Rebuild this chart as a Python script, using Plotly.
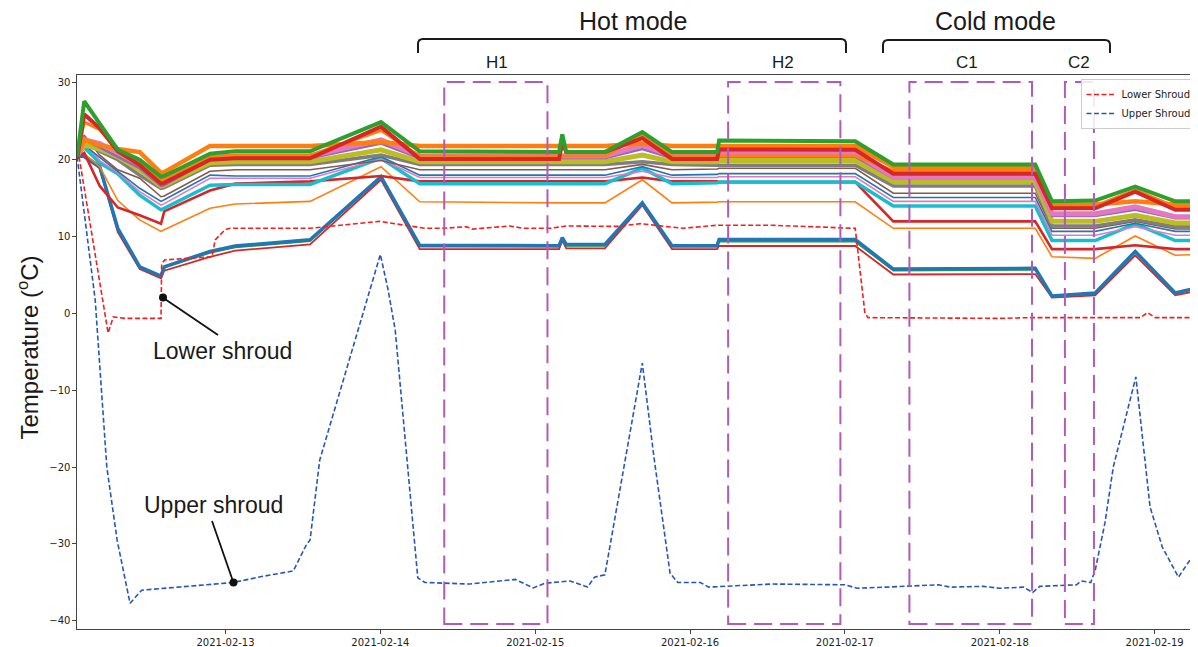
import pandas as pd
import plotly.graph_objects as go

# ---------------- data (time in hours since 2021-02-12 00:00) ----------------
BASE = pd.Timestamp("2021-02-12 00:00")

KEY_HOURS = [1.0, 2.1, 4.5, 7.3, 10.7, 14.0, 14.5, 21.6, 25.5, 37.1, 48.1, 54.1,
             75.7, 76.2, 76.8, 82.8, 88.6, 93.2, 100.2, 100.5, 121.6, 127.5,
             149.5, 152.1, 158.8, 165.0, 171.2, 174.7]

GREEN_THIN = [20.4, 20.3, 18.9, 10.7, 5.9, 4.7, 5.9, 7.8, 8.5, 9.3, 17.6, 8.6, 8.6, 9.6,
              8.7, 8.7, 14.2, 8.6, 8.6, 9.25, 9.25, 5.5, 5.6, 2.1, 2.5, 7.9, 2.5, 3.2]
RED_LOW = [20.3, 20.2, 18.8, 10.5, 5.7, 4.5, 5.5, 7.3, 8.1, 8.9, 17.3, 8.3, 8.3, 9.4,
           8.4, 8.4, 14.0, 8.3, 8.3, 8.7, 8.7, 5.0, 5.06, 2.0, 2.3, 7.5, 2.3, 2.9]
BLUE_THICK = [20.5, 20.4, 19.0, 11.0, 6.0, 4.8, 6.0, 8.0, 8.7, 9.5, 17.7, 8.8, 8.75, 9.8,
              8.9, 8.9, 14.3, 8.75, 8.75, 9.55, 9.55, 5.7, 5.8, 2.2, 2.6, 8.0, 2.6, 3.3]
ORANGE_THIN = [20.5, 20.7, 19.0, 14.6, 12.1, 10.6, 10.8, 13.6, 14.15, 14.5, 19.0, 14.45, 14.3, 14.3,
               14.3, 14.3, 17.3, 14.3, 14.4, 14.45, 14.45, 11.0, 11.0, 7.3, 7.1, 10.0, 7.5, 7.6]
RED_RIPPLE = [20.3, 20.8, 16.5, 13.7, 12.7, 11.6, 13.2, 15.9, 16.8, 17.1, 17.8, 17.1, 17.1, 17.1,
              17.1, 17.1, 17.6, 17.1, 17.1, 17.0, 17.0, 11.9, 11.9, 8.3, 8.3, 8.8, 8.3, 8.3]
CYAN = [20.5, 21.5, 19.5, 18.1, 15.3, 13.4, 13.6, 16.6, 16.7, 16.7, 20.1, 16.8, 16.8, 16.8,
        16.8, 16.8, 18.8, 16.8, 16.9, 17.0, 17.0, 13.9, 13.9, 9.4, 9.4, 11.56, 9.4, 9.4]
PINK_THIN = [20.5, 22.2, 19.8, 18.2, 15.75, 14.0, 14.2, 17.5, 17.5, 17.5, 20.0, 17.6, 17.6, 17.6,
             17.6, 17.6, 18.4, 17.6, 17.6, 17.7, 17.7, 14.5, 14.5, 10.1, 10.1, 11.2, 10.1, 10.1]
BLUE_THIN = [20.5, 21.8, 20.2, 18.4, 16.2, 14.5, 14.7, 17.9, 17.8, 17.8, 20.3, 17.9, 17.9, 17.9,
             17.9, 17.9, 19.0, 17.9, 18.0, 18.1, 18.1, 15.0, 15.0, 10.6, 10.6, 11.65, 10.6, 10.6]
BROWN = [20.5, 23.1, 20.5, 18.6, 17.5, 15.1, 15.2, 18.4, 18.6, 18.6, 19.8, 18.6, 18.6, 18.6,
         18.6, 18.6, 19.3, 18.6, 18.7, 18.8, 18.8, 15.55, 15.55, 11.0, 11.0, 11.9, 10.9, 10.9]
GRAY = [20.5, 22.8, 21.0, 19.9, 17.9, 16.2, 16.3, 19.2, 19.3, 19.3, 20.5, 19.3, 19.3, 19.3,
        19.3, 19.3, 19.65, 19.3, 19.2, 19.2, 19.2, 16.5, 16.5, 11.3, 11.3, 12.1, 11.2, 11.2]
OLIVE = [20.5, 21.8, 21.3, 20.3, 18.6, 16.5, 16.6, 19.5, 19.65, 19.65, 21.2, 19.65, 19.65, 19.65,
         19.65, 19.65, 20.5, 19.65, 19.65, 19.8, 19.8, 17.05, 17.05, 11.9, 11.9, 12.7, 11.7, 11.7]
PURPLE = [20.3, 22.5, 21.5, 20.3, 18.8, 16.5, 16.6, 19.9, 20.1, 20.1, 22.0, 20.1, 20.1, 20.1,
          20.1, 20.1, 21.3, 20.1, 20.1, 20.3, 20.3, 17.5, 17.5, 12.6, 12.6, 13.4, 12.3, 12.3]
PINK_THICK = [20.3, 22.5, 22.0, 20.8, 19.5, 16.9, 17.0, 20.2, 20.4, 20.4, 22.5, 20.4, 20.4, 20.4,
              20.4, 20.4, 21.8, 20.4, 20.4, 20.7, 20.7, 17.7, 17.7, 12.9, 12.9, 13.8, 12.5, 12.5]
ORANGE_THICK = [20.2, 24.8, 23.8, 21.1, 19.6, 17.3, 17.4, 20.3, 20.5, 20.5, 23.7, 20.4, 20.4, 20.4,
                20.4, 20.4, 23.1, 20.4, 20.4, 20.4, 20.4, 18.5, 18.5, 13.9, 13.9, 16.0, 13.8, 13.8]
ORANGE_RIPPLE = [20.5, 22.5, 21.8, 21.3, 20.9, 18.2, 18.3, 21.7, 21.7, 21.7, 22.2, 21.7, 21.7, 21.7,
                 21.7, 21.7, 22.0, 21.7, 21.7, 21.7, 21.7, 19.0, 19.0, 14.1, 14.1, 14.5, 14.1, 14.1]
RED_THICK = [20.0, 25.8, 24.0, 21.0, 19.2, 16.8, 16.9, 19.9, 20.1, 20.1, 24.2, 20.0, 20.0, 22.2,
             20.9, 20.9, 22.7, 20.0, 20.0, 21.25, 21.2, 18.1, 18.1, 13.6, 13.6, 15.75, 13.4, 13.4]
GREEN_THICK = [20.3, 27.5, 24.6, 21.2, 19.9, 17.7, 17.8, 20.7, 21.0, 21.0, 24.8, 21.0, 20.9, 23.2,
               20.9, 20.9, 23.5, 20.9, 20.9, 22.4, 22.3, 19.3, 19.3, 14.5, 14.6, 16.4, 14.5, 14.5]

LOWER_HOURS = [1.3, 5.8, 6.6, 8.4, 14.0, 14.1, 14.6, 20.0, 21.9, 22.4, 23.9, 24.7, 37.1, 47.9,
               54.9, 57.7, 61.4, 62.2, 68.1, 70.1, 74.3, 76.9, 84.7, 88.3, 94.9, 100.2, 108.4,
               121.6, 123.1, 123.6, 144.1, 148.7, 165.8, 166.9, 168.1, 173.5, 174.1, 174.7]
LOWER_TEMP = [20.3, -2.6, -0.5, -0.7, -0.7, 6.4, 6.9, 7.2, 7.3, 9.5, 10.8, 11.0, 11.0, 11.9,
              11.0, 11.0, 11.2, 10.9, 11.3, 11.0, 11.0, 11.3, 11.25, 11.6, 11.0, 11.4, 11.4,
              11.0, 0.0, -0.6, -0.7, -0.6, -0.6, 0.05, -0.6, -0.6, 0.3, -1.3]

UPPER_HOURS = [1.0, 3.8, 5.6, 7.2, 9.2, 11.0, 25.2, 29.8, 34.5, 35.8, 36.6, 37.1, 38.6, 48.0,
               49.2, 50.3, 53.8, 54.9, 61.9, 68.9, 71.7, 73.5, 77.4, 80.1, 81.2, 82.8, 88.6,
               90.4, 92.9, 94.1, 97.6, 98.9, 101.7, 108.6, 120.0, 121.9, 126.3, 134.5, 136.4,
               141.4, 144.0, 147.7, 149.1, 150.2, 155.9, 156.6, 158.1, 158.8, 160.3, 161.6,
               165.1, 167.3, 169.2, 171.7, 174.2, 174.7]
UPPER_TEMP = [20.3, 1.7, -20.0, -29.5, -37.7, -36.0, -35.0, -34.2, -33.5, -31.2, -30.0, -29.5,
              -19.1, 7.6, 3.0, -2.2, -34.4, -35.0, -35.2, -34.6, -35.7, -35.1, -34.8, -35.6,
              -34.3, -34.0, -6.5, -18.7, -33.8, -35.0, -35.0, -35.6, -35.5, -35.2, -35.3,
              -35.75, -35.6, -35.3, -35.6, -35.5, -35.75, -35.6, -36.3, -35.5, -35.3, -34.8,
              -35.0, -33.4, -27.3, -20.0, -8.3, -25.2, -30.4, -34.3, -31.2, -30.4]

BOX_LABELS = ["H1", "H2", "C1", "C2"]
BOX_START_HOURS = [57.9, 101.9, 130.0, 154.1]
BOX_END_HOURS = [73.9, 119.3, 149.0, 158.6]
BOX_TEMP_RANGE = [-40.4, 30.0]

X_RANGE_HOURS = [0.98, 174.73]
Y_RANGE = [-41.04, 30.91]
Y_TICKS = [-40, -30, -20, -10, 0, 10, 20, 30]

LOWER_NOTE_POINT = [14.31, 2.0]
UPPER_NOTE_POINT = [25.24, -35.0]


def to_time(hours):
    return [BASE + pd.Timedelta(hours=h) for h in hours]


# ---------------- layout geometry (page pixels -> paper) ----------------
PAGE_OFFSET = 8            # default body margin of the html page
PLOT_L, PLOT_R, PLOT_T, PLOT_B = 77, 1198, 75, 629   # plot area in page pixels
W, H = 1198 - PAGE_OFFSET, 647 - PAGE_OFFSET
ML = PLOT_L - PAGE_OFFSET
MT = PLOT_T - PAGE_OFFSET
MR = (W + PAGE_OFFSET) - PLOT_R
MB = (H + PAGE_OFFSET) - PLOT_B


def px(x):
    return (x - PLOT_L) / (PLOT_R - PLOT_L)


def py(y):
    return (PLOT_B - y) / (PLOT_B - PLOT_T)


TEXT_FONT = "Liberation Sans, Arial, sans-serif"
TICK_FONT = "DejaVu Sans, sans-serif"

fig = go.Figure()

sensor_styles = [
    (GREEN_THIN, "#2ca02c", 1.5),
    (RED_LOW, "#d62728", 1.8),
    (BLUE_THICK, "#1f77b4", 3.5),
    (ORANGE_THIN, "#ff7f0e", 1.6),
    (RED_RIPPLE, "#d62728", 2.6),
    (CYAN, "#17becf", 3.5),
    (PINK_THIN, "#e377c2", 1.6),
    (BLUE_THIN, "#1f77b4", 1.6),
    (BROWN, "#8c564b", 1.6),
    (GRAY, "#7f7f7f", 3.5),
    (OLIVE, "#bcbd22", 5.0),
    (PURPLE, "#9467bd", 2.5),
    (PINK_THICK, "#e377c2", 5.0),
    (ORANGE_THICK, "#ff7f0e", 3.0),
    (ORANGE_RIPPLE, "#ff7f0e", 4.5),
    (RED_THICK, "#d62728", 4.0),
    (GREEN_THICK, "#2ca02c", 4.0),
]
key_times = to_time(KEY_HOURS)
for vals, color, width in sensor_styles:
    fig.add_trace(go.Scatter(x=key_times, y=vals, mode="lines",
                             line=dict(color=color, width=width),
                             showlegend=False, hoverinfo="skip"))

fig.add_trace(go.Scatter(x=to_time(LOWER_HOURS), y=LOWER_TEMP, mode="lines",
                         name="Lower Shroud",
                         line=dict(color="#f02020", width=1.6, dash="5px,2.5px")))
fig.add_trace(go.Scatter(x=to_time(UPPER_HOURS), y=UPPER_TEMP, mode="lines",
                         name="Upper Shroud",
                         line=dict(color="#2a55b8", width=1.6, dash="5px,2.5px")))

# annotation dots
fig.add_trace(go.Scatter(x=to_time([LOWER_NOTE_POINT[0], UPPER_NOTE_POINT[0]]),
                         y=[LOWER_NOTE_POINT[1], UPPER_NOTE_POINT[1]],
                         mode="markers", marker=dict(color="#111111", size=8),
                         showlegend=False, hoverinfo="skip"))

shapes = []
annotations = []
BOX_COLOR = "#b05cb6"
for lab, h0, h1 in zip(BOX_LABELS, BOX_START_HOURS, BOX_END_HOURS):
    t0, t1 = to_time([h0, h1])
    shapes.append(dict(type="rect", xref="x", yref="y", x0=t0, x1=t1,
                       y0=BOX_TEMP_RANGE[0], y1=BOX_TEMP_RANGE[1],
                       line=dict(color=BOX_COLOR, width=2, dash="18px,8px"),
                       fillcolor="rgba(0,0,0,0)", layer="above"))

# box labels
label_px = {"H1": 497, "H2": 783, "C1": 967.5, "C2": 1079}
for lab in BOX_LABELS:
    annotations.append(dict(x=px(label_px[lab]), y=py(62), xref="paper", yref="paper",
                            text=lab, showarrow=False, xanchor="center", yanchor="middle",
                            borderpad=0,
                            font=dict(family=TEXT_FONT, size=17, color="#1a1a1a")))


def brace(x0, x1, ytop, ybot, r=5):
    return (f"M {px(x0)},{py(ybot)} L {px(x0)},{py(ytop + r)} "
            f"Q {px(x0)},{py(ytop)} {px(x0 + r)},{py(ytop)} "
            f"L {px(x1 - r)},{py(ytop)} Q {px(x1)},{py(ytop)} {px(x1)},{py(ytop + r)} "
            f"L {px(x1)},{py(ybot)}")


shapes.append(dict(type="path", xref="paper", yref="paper", path=brace(418, 846, 39, 53),
                   line=dict(color="#1a1a1a", width=2)))
shapes.append(dict(type="path", xref="paper", yref="paper", path=brace(883, 1110, 40, 53),
                   line=dict(color="#1a1a1a", width=2)))

# call-out leader lines (page pixels)
shapes.append(dict(type="line", xref="paper", yref="paper",
                   x0=px(163), y0=py(297.7), x1=px(218), y1=py(335),
                   line=dict(color="#111111", width=1.8)))
shapes.append(dict(type="line", xref="paper", yref="paper",
                   x0=px(233.5), y0=py(582.7), x1=px(212), y1=py(521),
                   line=dict(color="#111111", width=1.8)))

annotations.append(dict(x=px(632.5), y=py(21), xref="paper", yref="paper", text="Hot mode",
                        showarrow=False, xanchor="center", yanchor="middle", borderpad=0,
                        font=dict(family=TEXT_FONT, size=25, color="#1a1a1a")))
annotations.append(dict(x=px(995), y=py(21), xref="paper", yref="paper", text="Cold mode",
                        showarrow=False, xanchor="center", yanchor="middle", borderpad=0,
                        font=dict(family=TEXT_FONT, size=25, color="#1a1a1a")))

annotations.append(dict(x=px(222.7), y=py(351.3), xref="paper", yref="paper",
                        text="Lower shroud", showarrow=False, xanchor="center", yanchor="middle",
                        borderpad=0,
                        font=dict(family=TEXT_FONT, size=23, color="#1a1a1a")))
annotations.append(dict(x=px(213.8), y=py(505.3), xref="paper", yref="paper",
                        text="Upper shroud", showarrow=False, xanchor="center", yanchor="middle",
                        borderpad=0,
                        font=dict(family=TEXT_FONT, size=23, color="#1a1a1a")))

# y-axis title
annotations.append(dict(x=px(27), y=py(347.5), xref="paper", yref="paper",
                        text="Temperature (<sup>o</sup>C)", textangle=-90, showarrow=False,
                        xanchor="center", yanchor="middle", borderpad=0,
                        font=dict(family=TEXT_FONT, size=24, color="#1a1a1a")))

fig.update_layout(
    width=W, height=H,
    margin=dict(l=ML, r=MR, t=MT, b=MB, pad=0),
    plot_bgcolor="white", paper_bgcolor="white",
    font=dict(family=TICK_FONT, size=10, color="#222222"),
    shapes=shapes, annotations=annotations,
    legend=dict(x=px(1196.5), y=py(79), xanchor="right", yanchor="top",
                bgcolor="rgba(255,255,255,0.85)", bordercolor="#cccccc", borderwidth=1,
                font=dict(family=TICK_FONT, size=10, color="#222222"),
                tracegroupgap=0),
    xaxis=dict(type="date", range=to_time(X_RANGE_HOURS), tickformat="%Y-%m-%d",
               dtick=86400000, tick0="2021-02-13", ticks="outside", ticklen=3.5,
               tickwidth=1, tickcolor="#444444", showline=True, linecolor="#444444",
               linewidth=1.2, mirror=True, showgrid=False, zeroline=False,
               tickfont=dict(family=TICK_FONT, size=10, color="#222222")),
    yaxis=dict(range=Y_RANGE, tickvals=Y_TICKS, ticks="outside", ticklen=3.5,
               tickwidth=1, tickcolor="#444444", showline=True, linecolor="#444444",
               linewidth=1.2, showgrid=False, zeroline=False,
               tickfont=dict(family=TICK_FONT, size=10, color="#222222")),
)

fig.write_html("out.html")
